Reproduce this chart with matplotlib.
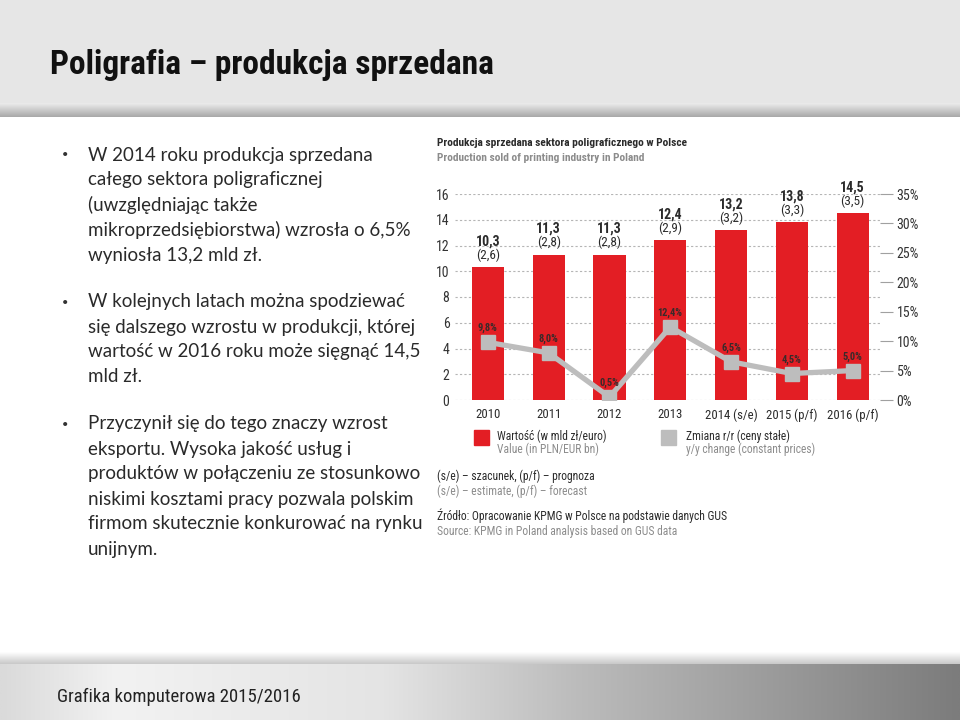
import numpy as np
import matplotlib
matplotlib.use("Agg")
import matplotlib.pyplot as plt
from matplotlib import font_manager
from matplotlib.patches import Rectangle

# ---- data ----
years = ["2010", "2011", "2012", "2013", "2014 (s/e)", "2015 (p/f)", "2016 (p/f)"]
value_pln = [10.3, 11.3, 11.3, 12.4, 13.2, 13.8, 14.5]      # mld zł
value_eur = [2.6, 2.8, 2.8, 2.9, 3.2, 3.3, 3.5]             # mld euro
yoy_change = [9.8, 8.0, 0.5, 12.4, 6.5, 4.5, 5.0]           # %

left_ticks = list(range(0, 17, 2))
right_ticks = list(range(0, 36, 5))

bullets = [
    ["W 2014 roku produkcja sprzedana",
     "całego sektora poligraficznej",
     "(uwzględniając także",
     "mikroprzedsiębiorstwa) wzrosła o 6,5%",
     "wyniosła 13,2 mld zł."],
    ["W kolejnych latach można spodziewać",
     "się dalszego wzrostu w produkcji, której",
     "wartość w 2016 roku może sięgnąć 14,5",
     "mld zł."],
    ["Przyczynił się do tego znaczy wzrost",
     "eksportu. Wysoka jakość usług i",
     "produktów w połączeniu ze stosunkowo",
     "niskimi kosztami pracy pozwala polskim",
     "firmom skutecznie konkurować na rynku",
     "unijnym."],
]


def pick(*names):
    avail = {f.name for f in font_manager.fontManager.ttflist}
    for n in names:
        if n in avail:
            return n
    return "DejaVu Sans"


NARROW = pick("Liberation Sans Narrow", "Roboto Condensed", "Liberation Sans")
BODY = pick("Lato", "Open Sans", "Noto Sans")

RED = "#e31e24"
GREY = "#bdbdbd"
DARK = "#2b2b2b"
LIGHT = "#8c8c8c"

fig = plt.figure(figsize=(9.6, 7.2), dpi=100)

# background "slide" axes in pixel coordinates
bg = fig.add_axes([0, 0, 1, 1], zorder=0)
bg.set_xlim(0, 960)
bg.set_ylim(720, 0)
bg.axis("off")


def vgrad(ax, x0, x1, y0, y1, c_top, c_bot):
    c0 = np.array(matplotlib.colors.to_rgb(c_top))
    c1 = np.array(matplotlib.colors.to_rgb(c_bot))
    t = np.linspace(0, 1, 64)[:, None, None]
    img = c0 + (c1 - c0) * t
    img = np.repeat(img, 2, axis=1)
    ax.imshow(img, extent=(x0, x1, y1, y0), origin="upper", aspect="auto",
              interpolation="bilinear", zorder=1)


def hgrad(ax, x0, x1, y0, y1, stops):
    pos = [s[0] for s in stops]
    cols = np.array([matplotlib.colors.to_rgb(s[1]) for s in stops])
    t = np.linspace(0, 1, 256)
    img = np.stack([np.interp(t, pos, cols[:, k]) for k in range(3)], axis=-1)
    img = np.repeat(img[None, :, :], 2, axis=0)
    ax.imshow(img, extent=(x0, x1, y1, y0), origin="upper", aspect="auto",
              interpolation="bilinear", zorder=1)


# title band
bg.add_patch(Rectangle((0, 0), 960, 103, color="#e6e6e6", zorder=1))
vgrad(bg, 0, 960, 103, 117, "#ececec", "#a8a8a8")
bg.text(50, 65, "Poligrafia – produkcja sprzedana", fontsize=24, fontweight="bold",
        family=NARROW, color="#111111", va="center", ha="left", zorder=3)

# footer band
vgrad(bg, 0, 960, 652, 664, "#ffffff", "#c8c8c8")
hgrad(bg, 0, 960, 664, 720, [(0, "#dadada"), (0.12, "#f2f2f2"), (0.4, "#e4e4e4"),
                             (0.6, "#bcbcbc"), (1.0, "#7c7c7c")])
bg.text(57, 697, "Grafika komputerowa 2015/2016", fontsize=13.5, family=NARROW,
        color="#222222", va="center", ha="left", zorder=3)

# bullet text
starts = [155, 302, 424]
for y0, lines in zip(starts, bullets):
    bg.text(62, y0, "•", fontsize=8, family=BODY, color="#333333", va="center", zorder=3)
    for i, line in enumerate(lines):
        bg.text(88, y0 + i * 25, line, fontsize=13.5, family=BODY,
                color="#2a2a2a", va="center", ha="left", zorder=3)

# pasted chart picture covers the right end of the text
bg.add_patch(Rectangle((427, 128), 520, 432, color="white", zorder=4))

bg.text(437, 143, "Produkcja sprzedana sektora poligraficznego w Polsce", fontsize=8.2,
        fontweight="bold", family=NARROW, color=DARK, va="center", zorder=5)
bg.text(437, 158, "Production sold of printing industry in Poland", fontsize=8.2,
        fontweight="bold", family=NARROW, color=LIGHT, va="center", zorder=5)

# legend
bg.add_patch(Rectangle((474, 430), 15, 15, color=RED, zorder=5))
bg.text(497, 436, "Wartość (w mld zł/euro)", fontsize=8.3, family=NARROW, color=DARK,
        va="center", zorder=5)
bg.text(497, 449, "Value (in PLN/EUR bn)", fontsize=8.3, family=NARROW, color=LIGHT,
        va="center", zorder=5)
bg.add_patch(Rectangle((661, 430), 15, 15, color=GREY, zorder=5))
bg.text(686, 436, "Zmiana r/r (ceny stałe)", fontsize=8.3, family=NARROW, color=DARK,
        va="center", zorder=5)
bg.text(686, 449, "y/y change (constant prices)", fontsize=8.3, family=NARROW, color=LIGHT,
        va="center", zorder=5)

bg.text(437, 476, "(s/e) – szacunek, (p/f) – prognoza", fontsize=8.4, family=NARROW,
        color=DARK, va="center", zorder=5)
bg.text(437, 491, "(s/e) – estimate, (p/f) – forecast", fontsize=8.4, family=NARROW,
        color=LIGHT, va="center", zorder=5)
bg.text(437, 516, "Źródło: Opracowanie KPMG w Polsce na podstawie danych GUS", fontsize=8.4,
        family=NARROW, color=DARK, va="center", zorder=5)
bg.text(437, 531, "Source: KPMG in Poland analysis based on GUS data", fontsize=8.4,
        family=NARROW, color=LIGHT, va="center", zorder=5)

# ---- the chart itself ----
ax = fig.add_axes([455 / 960, (720 - 400) / 720, 425 / 960, 206 / 720], zorder=2)
ax.patch.set_visible(False)
x = np.arange(len(years))
ax.bar(x, value_pln, width=0.53, color=RED, zorder=2)
ax.set_xlim(-0.54, 6.45)
ax.set_ylim(0, 16)
ax.set_yticks(left_ticks)
ax.set_xticks(x)
ax.set_xticklabels(years)
ax.grid(axis="y", linestyle=(0, (2, 2)), color="#b5b5b5", linewidth=0.8)
ax.set_axisbelow(True)
for s in ax.spines.values():
    s.set_visible(False)
ax.tick_params(axis="y", length=0, pad=4, labelsize=10, labelcolor="#333333")
ax.tick_params(axis="x", length=0, pad=6, labelsize=9.2, labelcolor=DARK)
for lab in ax.get_xticklabels() + ax.get_yticklabels():
    lab.set_family(NARROW)

for xi, v, e in zip(x, value_pln, value_eur):
    ax.annotate(f"({e:.1f})".replace(".", ","), (xi, v), xytext=(0, 12),
                textcoords="offset pixels", ha="center", va="center", fontsize=9.5,
                family=NARROW, color=DARK)
    ax.annotate(f"{v:.1f}".replace(".", ","), (xi, v), xytext=(0, 26),
                textcoords="offset pixels", ha="center", va="center", fontsize=10,
                fontweight="bold", family=NARROW, color=DARK)

ax2 = ax.twinx()
ax2.set_zorder(3)
ax2.patch.set_visible(False)
ax2.set_ylim(0, 35)
ax2.set_yticks(right_ticks)
ax2.set_yticklabels([f"{t}%" for t in right_ticks])
for s in ax2.spines.values():
    s.set_visible(False)
ax2.tick_params(axis="y", length=9, width=0.8, color="#a0a0a0", pad=3,
                labelsize=10, labelcolor="#333333")
for lab in ax2.get_yticklabels():
    lab.set_family(NARROW)

ax2.plot(x, yoy_change, color=GREY, linewidth=3.8, marker="s", markersize=10,
         markerfacecolor=GREY, markeredgecolor=GREY, zorder=3)
for xi, v in zip(x, yoy_change):
    ax2.annotate(f"{v:.1f}%".replace(".", ","), (xi, v), xytext=(0, 14),
                 textcoords="offset pixels", ha="center", va="center", fontsize=7.5,
                 fontweight="bold", family=NARROW, color="#3a2a2a")

fig.savefig("out.png", dpi=100)
